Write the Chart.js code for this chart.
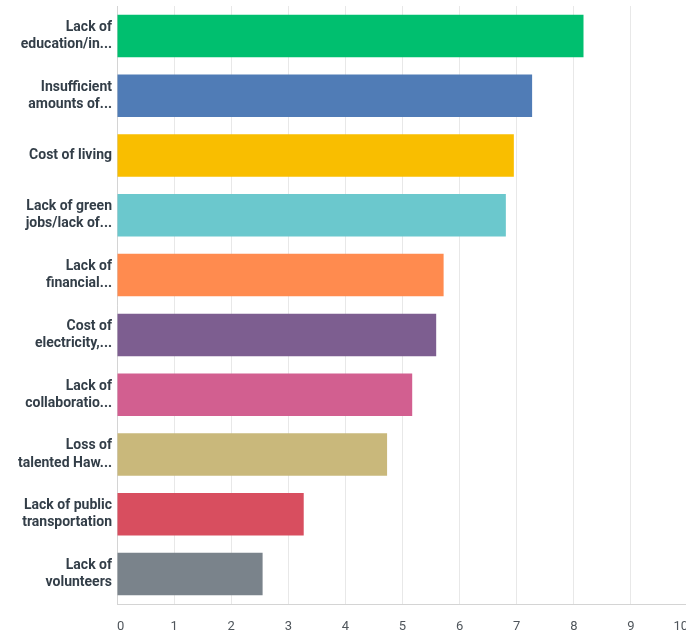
<!DOCTYPE html>
<html>
<head>
<meta charset="utf-8">
<script src="https://cdn.jsdelivr.net/npm/chart.js@4"></script>
<style>
  html, body { margin: 0; padding: 0; background: #ffffff; overflow: hidden; }
  #wrap { position: absolute; left: 0; top: 0; width: 700px; height: 634px; }
</style>
</head>
<body>
<div id="wrap"><canvas id="c"></canvas></div>
<script>
const categories = [
  ["Lack of", "education/in..."],
  ["Insufficient", "amounts of..."],
  ["Cost of living"],
  ["Lack of green", "jobs/lack of..."],
  ["Lack of", "financial..."],
  ["Cost of", "electricity,..."],
  ["Lack of", "collaboratio..."],
  ["Loss of", "talented Haw..."],
  ["Lack of public", "transportation"],
  ["Lack of", "volunteers"]
];
const scores = [8.17, 7.27, 6.95, 6.81, 5.72, 5.59, 5.17, 4.73, 3.27, 2.55];
const barColors = ["#00bf6f", "#507cb6", "#f9be00", "#6bc8cd", "#ff8b4f", "#7d5e90", "#d25f90", "#c9b87b", "#d84e5f", "#7a838b"];
const xTicks = [0, 1, 2, 3, 4, 5, 6, 7, 8, 9, 10];

new Chart(document.getElementById('c'), {
  type: 'bar',
  data: {
    labels: categories,
    datasets: [{
      data: scores,
      backgroundColor: barColors,
      borderWidth: 0,
      barPercentage: 0.71,
      categoryPercentage: 1.0
    }]
  },
  options: {
    indexAxis: 'y',
    responsive: true,
    maintainAspectRatio: false,
    animation: false,
    layout: { padding: { left: 0, right: 12, top: 6, bottom: 0 } },
    plugins: { legend: { display: false }, tooltip: { enabled: false } },
    scales: {
      x: {
        min: 0, max: 10,
        afterBuildTicks: (s) => { s.ticks = xTicks.map(v => ({ value: v })); },
        grid: { color: '#e8e8e8', drawTicks: false, lineWidth: 1 },
        border: { color: '#d4d4d4', width: 1 },
        ticks: {
          padding: 15,
          align: 'inner',
          color: '#4f555b',
          font: { family: 'Roboto', size: 13 }
        },
        afterFit: (s) => { s.height = 30; s.paddingLeft = 0; s.paddingRight = 0; }
      },
      y: {
        grid: { display: false, drawTicks: false },
        border: { color: '#d4d4d4', width: 1 },
        ticks: {
          padding: 5,
          color: '#333e48',
          font: { family: 'Roboto', size: 14, weight: 'bold', lineHeight: 1.22 }
        },
        afterFit: (s) => { s.width = 117; s.paddingTop = 0; s.paddingBottom = 0; }
      }
    }
  }
});
</script>
</body>
</html>
